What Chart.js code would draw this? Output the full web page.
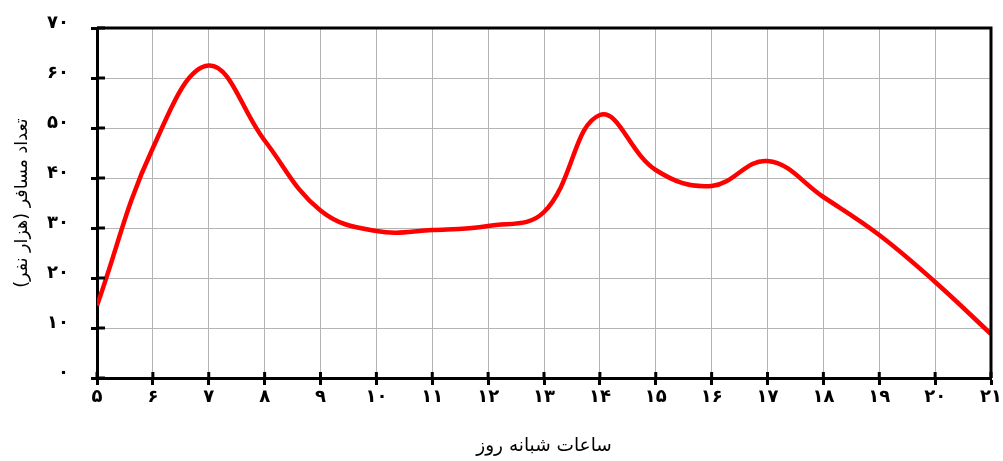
<!DOCTYPE html>
<html lang="fa">
<head>
<meta charset="utf-8">
<title>تعداد مسافر در ساعات شبانه روز</title>
<script src="https://cdn.jsdelivr.net/npm/chart.js@4.4.1/dist/chart.umd.min.js"></script>
<style>
  html, body { margin: 0; padding: 0; background: #ffffff; }
  #chart { display: block; }
</style>
</head>
<body>
<canvas id="chart" width="1003" height="461" dir="rtl"></canvas>
<script>
// Hours of the day (x) and passengers in thousands (y)
const hours = [5, 6, 7, 8, 9, 10, 11, 12, 13, 14, 15, 16, 17, 18, 19, 20, 21];
const passengers = [14.5, 46, 62.5, 47.5, 33.5, 29.4, 29.6, 30.4, 33.2, 52.6, 41.6, 38.4, 43.4, 36.2, 28.6, 19.2, 8.8];

// Tick labels in Persian digits
const hourLabels = ['۵', '۶', '۷', '۸', '۹', '۱۰', '۱۱', '۱۲', '۱۳', '۱۴', '۱۵', '۱۶', '۱۷', '۱۸', '۱۹', '۲۰', '۲۱'];
const yTickLabels = ['۰', '۱۰', '۲۰', '۳۰', '۴۰', '۵۰', '۶۰', '۷۰'];

const xTitle = 'ساعات شبانه روز';
const yTitle = 'تعداد مسافر (هزار نفر)';

const tickFont = { family: 'DejaVu Sans', size: 18, weight: 'bold' };

// Frame on top/right and the inner half of each cross tick mark
const framePlugin = {
  id: 'frame',
  afterDraw(chart) {
    const { ctx, chartArea: a, scales } = chart;
    ctx.save();
    ctx.strokeStyle = '#000';
    ctx.lineWidth = 3;
    ctx.beginPath();
    ctx.moveTo(a.left, a.top);
    ctx.lineTo(a.right, a.top);
    ctx.lineTo(a.right, a.bottom);
    ctx.stroke();
    ctx.beginPath();
    scales.x.ticks.forEach((t) => {
      const px = scales.x.getPixelForValue(t.value);
      ctx.moveTo(px, a.bottom);
      ctx.lineTo(px, a.bottom - 6);
    });
    scales.y.ticks.forEach((t) => {
      const py = scales.y.getPixelForValue(t.value);
      ctx.moveTo(a.left, py);
      ctx.lineTo(a.left + 8, py);
    });
    ctx.stroke();
    ctx.restore();
  }
};

new Chart(document.getElementById('chart'), {
  type: 'line',
  data: {
    datasets: [{
      data: hours.map((h, i) => ({ x: h, y: passengers[i] })),
      borderColor: '#ff0000',
      borderWidth: 4.5,
      pointRadius: 0,
      tension: 0.4,
      fill: false
    }]
  },
  options: {
    responsive: false,
    animation: false,
    layout: { padding: { left: 0, top: 28, right: 12, bottom: 0 } },
    plugins: { legend: { display: false }, tooltip: { enabled: false } },
    scales: {
      x: {
        type: 'linear',
        min: 5,
        max: 21,
        afterFit(scale) {
          scale.height = 83;
          scale.paddingLeft = 0;
          scale.paddingRight = 0;
        },
        ticks: {
          stepSize: 1,
          autoSkip: false,
          maxRotation: 0,
          padding: 2,
          color: '#000',
          font: tickFont,
          callback: (v) => hourLabels[hours.indexOf(v)]
        },
        grid: {
          color: '#b4b4b4',
          lineWidth: 1,
          drawTicks: true,
          tickLength: 7,
          tickColor: '#000',
          tickWidth: 3
        },
        border: { color: '#000', width: 3 },
        title: {
          display: true,
          text: xTitle,
          color: '#000',
          font: { family: 'DejaVu Sans', size: 18.5, weight: 'normal' },
          padding: { top: 0, bottom: 4 }
        }
      },
      y: {
        min: 0,
        max: 70,
        afterFit(scale) {
          scale.width = 97;
          scale.paddingTop = 0;
          scale.paddingBottom = 0;
        },
        ticks: {
          stepSize: 10,
          padding: 22,
          labelOffset: -5,
          color: '#000',
          font: tickFont,
          callback: (v) => yTickLabels[v / 10]
        },
        grid: {
          color: '#b4b4b4',
          lineWidth: 1,
          drawTicks: true,
          tickLength: 6,
          tickColor: '#000',
          tickWidth: 3
        },
        border: { color: '#000', width: 3 },
        title: {
          display: true,
          text: yTitle,
          color: '#000',
          font: { family: 'DejaVu Sans', size: 17.5, weight: 'normal' },
          padding: { top: 12, bottom: 0 }
        }
      }
    }
  },
  plugins: [framePlugin]
});
</script>
</body>
</html>
